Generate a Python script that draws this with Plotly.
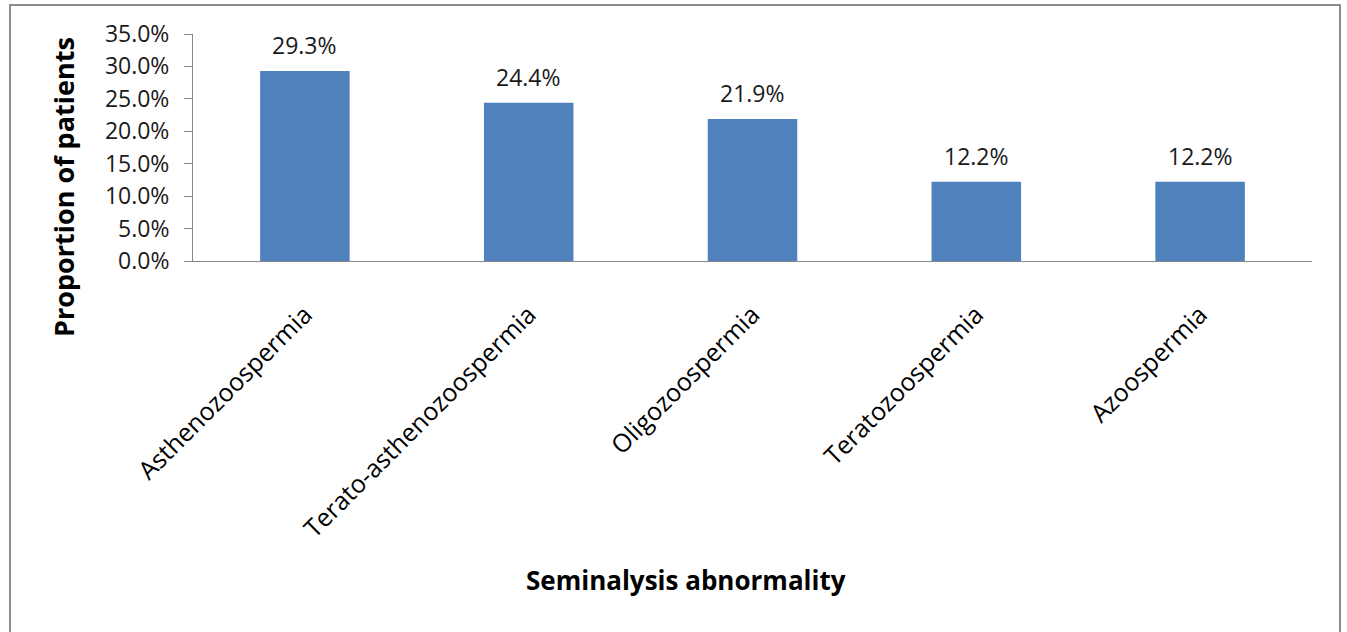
import plotly.graph_objects as go

# Seminalysis abnormality categories and share of patients (%)
categories = ["Asthenozoospermia", "Terato-asthenozoospermia", "Oligozoospermia",
              "Teratozoospermia", "Azoospermia"]
proportions = [29.3, 24.4, 21.9, 12.2, 12.2]
y_ticks = [0, 5, 10, 15, 20, 25, 30, 35]
y_tick_labels = [f"{v:.1f}%" for v in y_ticks]

W, H = 1347, 632
L, R, T, B = 193, 35, 34, 371  # plot-area margins in pixels
plot_w = W - L - R
plot_h = H - T - B

def px_to_paper_x(px):
    return (px - L) / plot_w

def px_to_paper_y(py):
    return (H - B - py) / plot_h

FONT = "Open Sans"
BAR_COLOR = "#4F81BD"
AXIS_COLOR = "#868686"

fig = go.Figure(
    go.Bar(
        x=categories,
        y=proportions,
        marker=dict(color=BAR_COLOR, line=dict(width=0)),
        width=0.4,
        hoverinfo="x+y",
    )
)

# value labels above each bar
for cat, val in zip(categories, proportions):
    fig.add_annotation(
        x=cat, y=val, text=f"{val:.1f}%", showarrow=False,
        yanchor="middle", yshift=26,
        font=dict(family=FONT, size=23, color="#1a1a1a"),
    )

# axis titles
fig.add_annotation(
    x=px_to_paper_x(686), y=px_to_paper_y(580), xref="paper", yref="paper",
    text="<b>Seminalysis abnormality</b>", showarrow=False,
    xanchor="center", yanchor="middle",
    font=dict(family=FONT, size=26, color="#000000"),
)
fig.add_annotation(
    x=px_to_paper_x(63), y=px_to_paper_y(187), xref="paper", yref="paper",
    text="<b>Proportion of patients</b>", showarrow=False, textangle=-90,
    xanchor="center", yanchor="middle",
    font=dict(family=FONT, size=27, color="#000000"),
)

# outer chart border
fig.add_shape(
    type="rect", xref="paper", yref="paper",
    x0=px_to_paper_x(10), x1=px_to_paper_x(1340),
    y0=px_to_paper_y(645), y1=px_to_paper_y(5),
    line=dict(color="#8c8c8c", width=2), fillcolor="rgba(0,0,0,0)", layer="below",
)

fig.update_layout(
    width=W, height=H,
    margin=dict(l=L, r=R, t=T, b=B, pad=0),
    paper_bgcolor="white", plot_bgcolor="white",
    showlegend=False,
    bargap=0.6,
    xaxis=dict(
        type="category",
        showline=True, linecolor=AXIS_COLOR, linewidth=1,
        ticks="", showgrid=False, zeroline=False,
        tickangle=-45, ticklabelstandoff=28,
        tickfont=dict(family=FONT, size=25, color="#000000"),
    ),
    yaxis=dict(
        range=[0, 35], tickvals=y_ticks, ticktext=y_tick_labels,
        showline=True, linecolor=AXIS_COLOR, linewidth=1,
        ticks="outside", ticklen=8, tickcolor=AXIS_COLOR,
        ticklabelstandoff=10,
        showgrid=False, zeroline=False,
        tickfont=dict(family=FONT, size=23, color="#1a1a1a"),
    ),
)

fig.write_html("out.html")
